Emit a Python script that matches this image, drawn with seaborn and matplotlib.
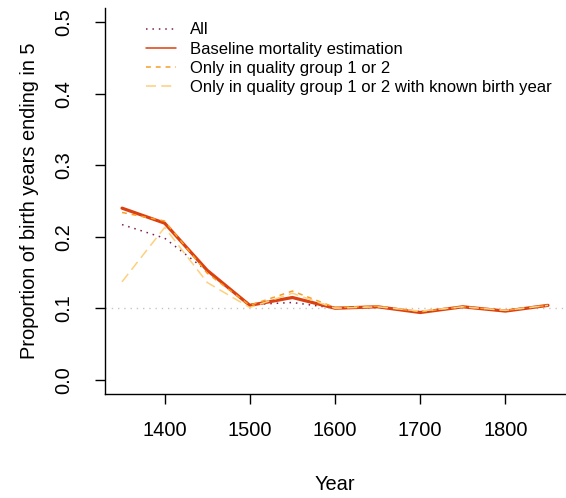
import numpy as np
import pandas as pd
import matplotlib
matplotlib.use('Agg')
import matplotlib.pyplot as plt
import seaborn as sns

# data
years = [1350, 1400, 1450, 1500, 1550, 1600, 1650, 1700, 1750, 1800, 1850]
all_vals = [0.217, 0.198, 0.152, 0.105, 0.108, 0.100, 0.102, 0.095, 0.102, 0.097, 0.104]
baseline = [0.240, 0.219, 0.153, 0.104, 0.115, 0.100, 0.102, 0.094, 0.102, 0.096, 0.104]
quality12 = [0.234, 0.222, 0.149, 0.104, 0.124, 0.101, 0.103, 0.095, 0.102, 0.097, 0.104]
quality12_known = [0.137, 0.213, 0.136, 0.101, 0.121, 0.100, 0.102, 0.096, 0.102, 0.097, 0.104]

labels = ['All', 'Baseline mortality estimation', 'Only in quality group 1 or 2',
          'Only in quality group 1 or 2 with known birth year']
colors = ['#7b1f52', '#db4010', '#f99d24', '#fdd07e']

sns.set_style('white')
plt.rcParams['font.family'] = ['Liberation Sans', 'DejaVu Sans']
plt.rcParams['text.color'] = 'black'
plt.rcParams['axes.labelcolor'] = 'black'
plt.rcParams['xtick.color'] = 'black'
plt.rcParams['ytick.color'] = 'black'

fig = plt.figure(figsize=(5.66, 4.98), dpi=100)
ax = fig.add_axes([105 / 566, 104 / 498, 460 / 566, 386 / 498])

# reference line at 0.1
ax.axhline(0.1, color='#c4c4c4', lw=1.0, linestyle=(0, (1, 3.5)), zorder=1)

styles = [
    dict(lw=1.1, linestyle=(0, (1, 3.2))),
    dict(lw=2.3, linestyle='-'),
    dict(lw=1.1, linestyle=(0, (3.2, 3.2))),
    dict(lw=1.1, linestyle=(0, (6.5, 3.5))),
]
for vals, lab, col, st in zip([all_vals, baseline, quality12, quality12_known], labels, colors, styles):
    sns.lineplot(x=years, y=vals, ax=ax, color=col, label=lab, **st)

ax.set_xlim(1330, 1870)
ax.set_ylim(-0.02, 0.52)
ax.set_xticks([1400, 1500, 1600, 1700, 1800])
ax.set_yticks([0.0, 0.1, 0.2, 0.3, 0.4, 0.5])
ax.set_yticklabels(['0.0', '0.1', '0.2', '0.3', '0.4', '0.5'], rotation=90, va='center')
ax.tick_params(axis='both', direction='out', length=7.5, width=1, color='black',
               labelcolor='black', labelsize=14.4, left=True, bottom=True)
ax.tick_params(axis='x', pad=12)
ax.tick_params(axis='y', pad=15.5)

for s in ['top', 'right']:
    ax.spines[s].set_visible(False)
for s in ['left', 'bottom']:
    ax.spines[s].set_color('black')
    ax.spines[s].set_linewidth(1)

ax.set_xlabel('Year', fontsize=14.4, labelpad=25)
ax.set_ylabel('Proportion of birth years ending in 5', fontsize=14.4, labelpad=11)

leg = ax.legend(loc='upper left', bbox_to_anchor=(0.075, 0.98), frameon=False, fontsize=12,
                handlelength=1.8, handletextpad=0.85, labelspacing=0.25, borderaxespad=0)
# legend keys in the reference are all drawn thin
for h in leg.get_lines():
    h.set_linewidth(1.1)

fig.savefig('out.png', dpi=100)
